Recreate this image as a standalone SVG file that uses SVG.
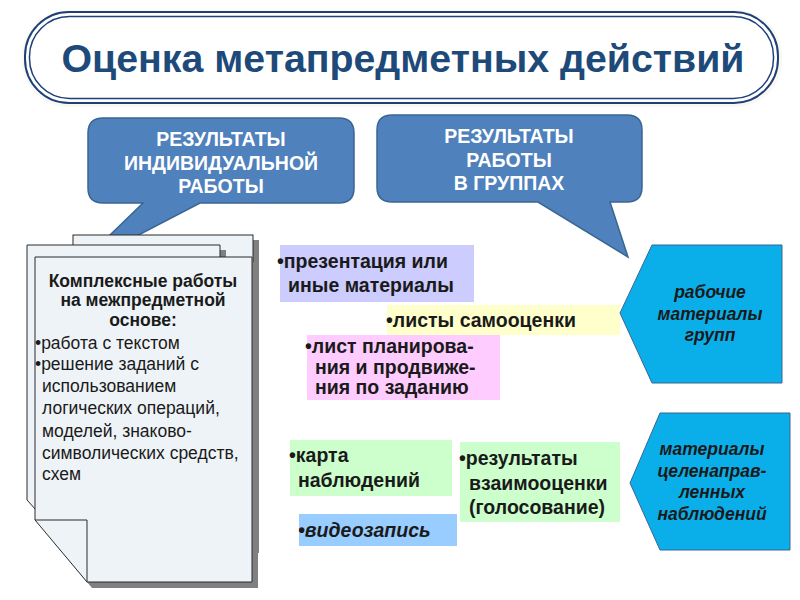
<svg xmlns="http://www.w3.org/2000/svg" width="800" height="600" viewBox="0 0 800 600">
<defs>
<style>
.title{font-family:"Liberation Sans",Arial,sans-serif;font-weight:bold;font-size:38px;fill:#1E4A7A;text-anchor:middle}
.call{fill:#4F81BD;stroke:#3A6593;stroke-width:1.5}
.ct{font-family:"Liberation Sans",Arial,sans-serif;font-weight:bold;font-size:19.5px;fill:#FFFFFF;text-anchor:middle}
.page{fill:#EEF3F7;stroke:#2B2B2B;stroke-width:1}
.shadow{fill:#808080}
.dt{font-family:"Liberation Sans",Arial,sans-serif;font-size:17.5px;fill:#1A1A1A}
.dtb{font-weight:bold;text-anchor:middle}
.bt{font-family:"Liberation Sans",Arial,sans-serif;font-weight:bold;font-size:19.5px;fill:#1A1A1A}
.pent{fill:#0AAFEA;stroke:#3A6593;stroke-width:1}
.pt{font-family:"Liberation Sans",Arial,sans-serif;font-weight:bold;font-style:italic;font-size:17.5px;fill:#1A1A1A;text-anchor:middle}
</style>
</defs>
<rect width="800" height="600" fill="#FFFFFF"/>

<g id="title">
<rect x="22" y="10" width="760" height="97" rx="46" fill="#FAF8F2"/>
<rect x="25" y="12" width="753" height="91" rx="44" fill="#FFFFFF" stroke="#1F3F7A" stroke-width="2"/>
<rect x="29.5" y="16.5" width="744" height="82" rx="40" fill="none" stroke="#1F3F7A" stroke-width="1.5"/>
<text class="title" x="403" y="72" textLength="683" lengthAdjust="spacingAndGlyphs">Оценка метапредметных действий</text>
</g>

<g id="callout-individual">
<path class="call" d="M103,118 H339 Q354,118 354,133 V188 Q354,203 339,203 H200 L77,267 L143,203 H103 Q88,203 88,188 V133 Q88,118 103,118 Z"/>
<text class="ct" x="221" y="146">РЕЗУЛЬТАТЫ</text>
<text class="ct" x="221" y="170">ИНДИВИДУАЛЬНОЙ</text>
<text class="ct" x="221" y="193">РАБОТЫ</text>
</g>

<g id="callout-groups">
<path class="call" d="M392,115 H627 Q642,115 642,130 V187 Q642,202 627,202 H610 L628,257 L538,202 H392 Q377,202 377,187 V130 Q377,115 392,115 Z"/>
<text class="ct" x="509" y="143">РЕЗУЛЬТАТЫ</text>
<text class="ct" x="509" y="167">РАБОТЫ</text>
<text class="ct" x="509" y="190">В ГРУППАХ</text>
</g>

<g id="documents">
<rect class="shadow" x="78" y="240" width="181" height="313"/>
<rect class="page" x="73" y="235" width="180" height="313"/>
<polygon class="shadow" points="32,250 226,250 226,525 50,525 32,505"/>
<polygon class="page" points="27,245 220,245 220,520 45,520 27,500"/>
<polygon class="shadow" points="40,262 258,262 258,588 92,588 40,525"/>
<polygon class="page" points="35,257 252,257 252,582 87,582 35,520"/>
<polyline points="35,520 87,520 87,582" fill="none" stroke="#2B2B2B" stroke-width="1"/>
<text class="dt dtb" x="143" y="287">Комплексные работы</text>
<text class="dt dtb" x="143" y="306">на межпредметной</text>
<text class="dt dtb" x="143" y="326">основе:</text>
<text class="dt" x="35" y="349">•работа с текстом</text>
<text class="dt" x="35" y="370">•решение заданий с</text>
<text class="dt" x="42" y="392">использованием</text>
<text class="dt" x="42" y="414">логических операций,</text>
<text class="dt" x="42" y="437">моделей, знаково-</text>
<text class="dt" x="42" y="459">символических средств,</text>
<text class="dt" x="42" y="480">схем</text>
</g>

<g id="box-presentation">
<rect x="280" y="245" width="194" height="57" fill="#CCCCFF"/>
<text class="bt" x="277" y="268">•презентация или</text>
<text class="bt" x="288" y="292">иные материалы</text>
</g>

<g id="box-selfassessment">
<rect x="387" y="305" width="233" height="30" fill="#FFFFCC"/>
<text class="bt" x="386" y="327">•листы самооценки</text>
</g>

<g id="box-planning">
<rect x="307" y="335" width="193" height="65" fill="#FFCCFF"/>
<text class="bt" x="305" y="353">•лист планирова-</text>
<text class="bt" x="315" y="374">ния и продвиже-</text>
<text class="bt" x="315" y="394">ния по заданию</text>
</g>

<g id="box-map">
<rect x="290" y="440" width="162" height="56" fill="#CCFFCC"/>
<text class="bt" x="289" y="462">•карта</text>
<text class="bt" x="298" y="487">наблюдений</text>
</g>

<g id="box-peer">
<rect x="460" y="442" width="160" height="80" fill="#CCFFCC"/>
<text class="bt" x="459" y="465">•результаты</text>
<text class="bt" x="469" y="490">взаимооценки</text>
<text class="bt" x="469" y="514">(голосование)</text>
</g>

<g id="box-video">
<rect x="299" y="514" width="158" height="32" fill="#99CCFF"/>
<text class="bt" x="298" y="537" font-style="italic">•видеозапись</text>
</g>

<g id="pent-group">
<polygon class="pent" points="620,313 652,245 782,245 782,383 652,383"/>
<text class="pt" x="710" y="298">рабочие</text>
<text class="pt" x="710" y="320">материалы</text>
<text class="pt" x="710" y="341">групп</text>
</g>

<g id="pent-observe">
<polygon class="pent" points="630,483 660,413 790,413 790,550 660,550"/>
<text class="pt" x="712" y="455">материалы</text>
<text class="pt" x="712" y="477">целенаправ-</text>
<text class="pt" x="712" y="498">ленных</text>
<text class="pt" x="712" y="520">наблюдений</text>
</g>

<g id="connectors"></g>
</svg>
